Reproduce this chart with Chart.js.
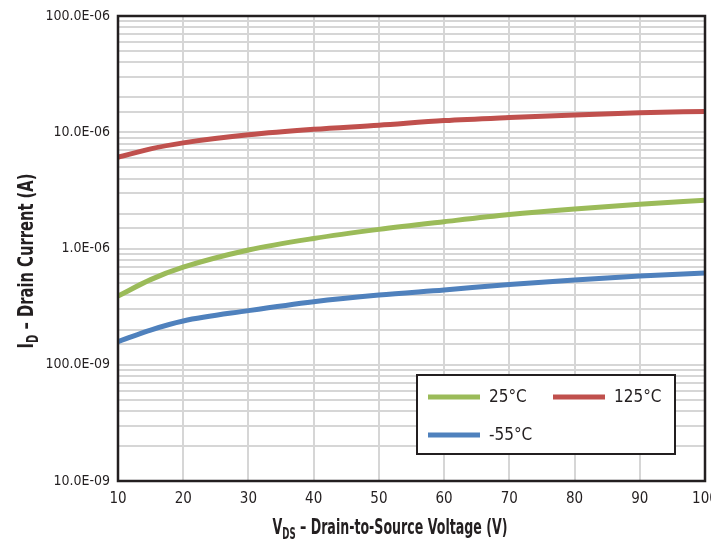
<!DOCTYPE html>
<html>
<head>
<meta charset="utf-8">
<script src="https://cdn.jsdelivr.net/npm/chart.js@4.4.0/dist/chart.umd.min.js"></script>
<style>
    html, body { margin: 0; padding: 0; background: #fff; }
    #contenitore { width: 711px; height: 542px; }
</style>
</head>
<body>
<div id="contenitore"><canvas id="grafico" width="711" height="542"></canvas></div>
<script>
// tensione drain-source (V)
var tensioni = [10, 15, 20, 30, 40, 50, 60, 70, 80, 90, 100];

// corrente di drain (A) per temperatura
var corrente25 = [3.9e-7, 5.4e-7, 6.9e-7, 9.7e-7, 1.22e-6, 1.46e-6, 1.70e-6, 1.96e-6, 2.19e-6, 2.40e-6, 2.60e-6];
var corrente125 = [6.1e-6, 7.2e-6, 8.1e-6, 9.5e-6, 1.06e-5, 1.15e-5, 1.26e-5, 1.34e-5, 1.41e-5, 1.47e-5, 1.51e-5];
var correnteMeno55 = [1.58e-7, 1.99e-7, 2.38e-7, 2.92e-7, 3.49e-7, 3.98e-7, 4.40e-7, 4.90e-7, 5.36e-7, 5.80e-7, 6.15e-7];

var etichetteSerie = ["25°C", "125°C", "-55°C"];

// etichette asse Y (solo le decadi)
var decadi = [1e-8, 1e-7, 1e-6, 1e-5, 1e-4];
var etichetteY = ["10.0E-09", "100.0E-09", "1.0E-06", "10.0E-06", "100.0E-06"];

var FONT = "'Liberation Sans Narrow', 'DejaVu Sans Condensed', 'Roboto', sans-serif";

function punti(valori) {
    var out = [];
    for (var i = 0; i < tensioni.length; i++) {
        out.push({ x: tensioni[i], y: valori[i] });
    }
    return out;
}

function fontDi(parte) {
    return parte.sub ? "bold 15px " + FONT : "bold 22px " + FONT;
}

// scrive un testo con pedice, centrato su (0,0) e compresso per stare in "larghezza"
function scriviConPedice(ctx, parti, larghezza) {
    var totale = 0;
    for (var i = 0; i < parti.length; i++) {
        ctx.font = fontDi(parti[i]);
        totale += ctx.measureText(parti[i].t).width;
    }
    var k = Math.min(1, larghezza / totale);
    ctx.scale(k, 1);
    var cx = -totale / 2;
    for (var j = 0; j < parti.length; j++) {
        ctx.font = fontDi(parti[j]);
        ctx.fillText(parti[j].t, cx, parti[j].sub ? 5 : 0);
        cx += ctx.measureText(parti[j].t).width;
    }
}

var decorazioni = {
    id: "decorazioni",
    afterDraw: function (chart) {
        var ctx = chart.ctx;
        var area = chart.chartArea;
        ctx.save();

        // cornice
        ctx.strokeStyle = "#231f20";
        ctx.lineWidth = 2.5;
        ctx.strokeRect(area.left, area.top, area.right - area.left, area.bottom - area.top);

        // titoli assi
        ctx.fillStyle = "#231f20";
        ctx.textAlign = "left";
        ctx.textBaseline = "alphabetic";

        ctx.save();
        ctx.translate(390, 534);
        scriviConPedice(ctx, [{ t: "V" }, { t: "DS", sub: true }, { t: " – Drain-to-Source Voltage (V)" }], 235);
        ctx.restore();

        ctx.save();
        ctx.translate(33, 261);
        ctx.rotate(-Math.PI / 2);
        scriviConPedice(ctx, [{ t: "I" }, { t: "D", sub: true }, { t: " – Drain Current (A)" }], 175);
        ctx.restore();

        // legenda dentro il grafico
        var lx = area.right - 288, ly = area.bottom - 106, lw = 258, lh = 79;
        ctx.fillStyle = "#fff";
        ctx.fillRect(lx, ly, lw, lh);
        ctx.strokeStyle = "#231f20";
        ctx.lineWidth = 2;
        ctx.strokeRect(lx, ly, lw, lh);

        var posizioni = [
            { x: lx + 11, y: ly + 22 },
            { x: lx + 136, y: ly + 22 },
            { x: lx + 11, y: ly + 60 }
        ];
        ctx.font = "17px " + FONT;
        ctx.textBaseline = "middle";
        chart.data.datasets.forEach(function (ds, i) {
            var p = posizioni[i];
            ctx.strokeStyle = ds.borderColor;
            ctx.lineWidth = 5;
            ctx.beginPath();
            ctx.moveTo(p.x, p.y);
            ctx.lineTo(p.x + 52, p.y);
            ctx.stroke();
            ctx.fillStyle = "#231f20";
            ctx.fillText(ds.label, p.x + 61, p.y + 1);
        });
        ctx.restore();
    }
};

var ctx = document.getElementById("grafico");
var chart = new Chart(ctx, {
    type: "line",
    data: {
        datasets: [
            { label: etichetteSerie[0], data: punti(corrente25), borderColor: "#9bbb59" },
            { label: etichetteSerie[1], data: punti(corrente125), borderColor: "#c0504d" },
            { label: etichetteSerie[2], data: punti(correnteMeno55), borderColor: "#4f81bd" }
        ]
    },
    options: {
        responsive: false,
        animation: false,
        devicePixelRatio: 1,
        layout: { padding: { top: 16, right: 6, left: 0, bottom: 0 } },
        elements: {
            line: { borderWidth: 5, cubicInterpolationMode: "monotone", fill: false },
            point: { radius: 0 }
        },
        plugins: {
            legend: { display: false },
            tooltip: { enabled: false }
        },
        scales: {
            x: {
                type: "linear",
                min: 10,
                max: 100,
                ticks: {
                    stepSize: 10,
                    color: "#231f20",
                    font: { family: FONT, size: 15 },
                    padding: 9
                },
                grid: { color: "#d6d6d6", lineWidth: 2, drawTicks: false },
                border: { display: false },
                afterFit: function (scale) {
                    scale.height = 61;
                    scale.paddingLeft = 0;
                    scale.paddingRight = 0;
                }
            },
            y: {
                type: "logarithmic",
                min: 1e-8,
                max: 1e-4,
                ticks: {
                    autoSkip: false,
                    color: "#231f20",
                    font: { family: FONT, size: 14 },
                    padding: 8,
                    callback: function (value) {
                        for (var i = 0; i < decadi.length; i++) {
                            if (Math.abs(value / decadi[i] - 1) < 1e-6) return etichetteY[i];
                        }
                        return "";
                    }
                },
                grid: { color: "#d6d6d6", lineWidth: 2, drawTicks: false },
                border: { display: false },
                afterFit: function (scale) {
                    scale.width = 118;
                    scale.paddingTop = 0;
                    scale.paddingBottom = 0;
                }
            }
        }
    },
    plugins: [decorazioni]
});
</script>
</body>
</html>
